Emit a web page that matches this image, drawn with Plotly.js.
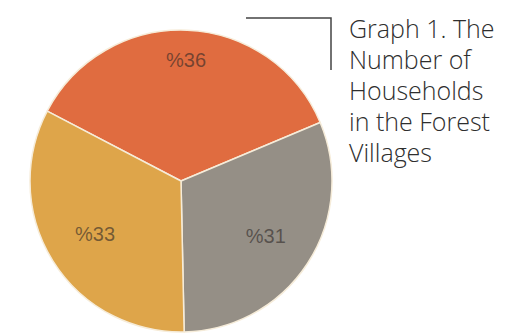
<!DOCTYPE html>
<html>
<head>
<meta charset="utf-8">
<script src="https://cdn.plot.ly/plotly-3.0.1.min.js"></script>
<style>html,body{margin:0;padding:0;background:#fff;}#chart{width:506px;height:333px;}</style>
</head>
<body>
<div id="chart"></div>
<script>
const categories = ["Slice A", "Slice B", "Slice C"];
const values = [36, 31, 33];
const labelsText = values.map(v => "%" + v);
const colors = ["#e06c40", "#958f86", "#dea54a"];
const titleLines = ["Graph 1. The", "Number of", "Households", "in the Forest", "Villages"];

const W = 506, H = 333;
const domain = {x: [30 / W, 332 / W], y: [1 / H, 303 / H]};
const common = {
  type: "pie",
  labels: categories,
  values: values,
  sort: false,
  direction: "clockwise",
  rotation: -62.4,
  domain: domain,
  showlegend: false,
  hoverinfo: "none"
};
const textFont = {family: "Liberation Sans, Arial, sans-serif", size: 20, color: "rgba(45,40,38,0.6)"};
const clear = ["rgba(0,0,0,0)", "rgba(0,0,0,0)", "rgba(0,0,0,0)"];

const base = Object.assign({}, common, {
  textinfo: "none",
  marker: {colors: colors, line: {color: "#f6ecd9", width: 1.5}}
});
// label layer for the top slice (ring placement pushes text outward)
const labelsOuter = Object.assign({}, common, {
  hole: 0.6,
  text: labelsText.map((t, i) => i === 0 ? t : ""),
  textinfo: "text",
  textposition: "inside",
  insidetextorientation: "horizontal",
  textfont: textFont,
  marker: {colors: clear, line: {width: 0}}
});
const labelsInner = Object.assign({}, common, {
  hole: 0.34,
  text: labelsText.map((t, i) => i === 0 ? "" : t),
  textinfo: "text",
  textposition: "inside",
  insidetextorientation: "horizontal",
  textfont: textFont,
  marker: {colors: clear, line: {width: 0}}
});

const titleFont = {family: "Open Sans, Liberation Sans, sans-serif", size: 25, color: "#2e2e2e", weight: 300};
const annotations = titleLines.map((line, i) => ({
  text: line,
  xref: "paper", yref: "paper",
  x: 347 / W, y: 1 - (28 + 31 * i) / H,
  xanchor: "left", yanchor: "middle", align: "left",
  showarrow: false,
  font: titleFont
}));

const layout = {
  width: W, height: H,
  margin: {l: 0, r: 0, t: 0, b: 0},
  paper_bgcolor: "#ffffff",
  showlegend: false,
  annotations: annotations,
  shapes: [{
    type: "path", xref: "paper", yref: "paper",
    path: "M " + (246 / W) + "," + (1 - 18 / H) + " L " + (331 / W) + "," + (1 - 18 / H) + " L " + (331 / W) + "," + (1 - 70 / H),
    line: {color: "#444444", width: 1.5}
  }]
};

Plotly.newPlot("chart", [base, labelsOuter, labelsInner], layout, {staticPlot: true, displayModeBar: false});
</script>
</body>
</html>
